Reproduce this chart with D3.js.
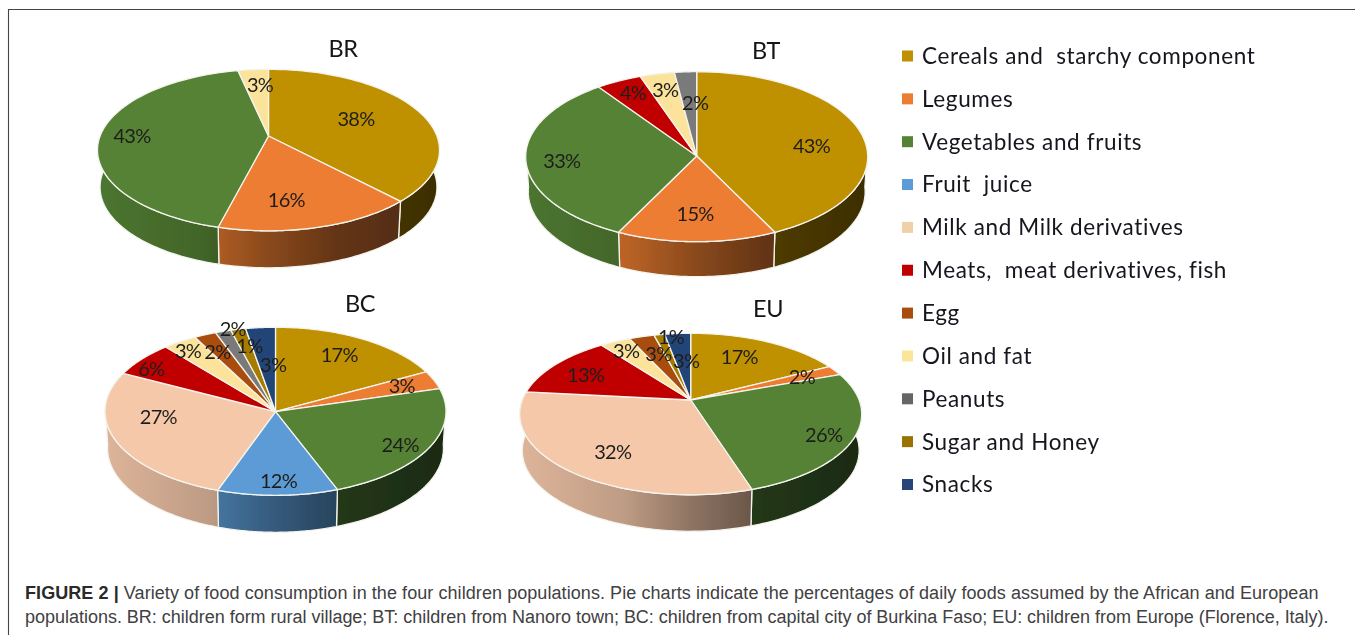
<!DOCTYPE html>
<html><head><meta charset="utf-8">
<script src="https://cdnjs.cloudflare.com/ajax/libs/d3/7.8.5/d3.min.js"></script>
<style>
html,body{margin:0;padding:0;background:#fff;overflow:hidden}
svg{display:block}
text{white-space:pre;font-variant-ligatures:none}
</style></head><body><svg id="c" width="1355" height="635"></svg>
<script>
// ---------- data ----------
const categories = ["Cereals and  starchy component","Legumes","Vegetables and fruits","Fruit  juice","Milk and Milk derivatives","Meats,  meat derivatives, fish","Egg","Oil and fat","Peanuts","Sugar and Honey","Snacks"];
// shares read from the slice boundaries; labels print them rounded
const seriesBR = [38,16,42.6,0,0,0,0,3.4,0,0,0];
const seriesBT = [42.5,15,32.7,0,0,4.4,0,3.3,2.1,0,0];
const seriesBC = [17.2,3.4,23.5,11.5,27,6.4,2.1,3.3,1.5,1.4,2.8];
const seriesEU = [17.4,2,25.7,0,31.6,13,2.8,3.4,0,1.2,2.9];
const sliceOrder = [0,1,2,3,4,5,7,6,8,9,10]; // oil precedes egg round the pie
const pieNames = ["BR","BT","BC","EU"];
const captionBold = "FIGURE 2 |";
const captionLine1 = " Variety of food consumption in the four children populations. Pie charts indicate the percentages of daily foods assumed by the African and European";
const captionLine2 = "populations. BR: children form rural village; BT: children from Nanoro town; BC: children from capital city of Burkina Faso; EU: children from Europe (Florence, Italy).";

// ---------- style / layout ----------
const colors = ["#BF9000","#ED7D31","#548235","#5B9BD5","#F5C8AA","#C00000","#A84E10","#FBE39B","#7A7A7A","#A67C00","#234478"];
const legendSwatch = ["#BF9000","#ED7D31","#548235","#5B9BD5","#F0D0A8","#C00000","#A84E10","#FBE599","#666666","#997300","#264478"];
const wallStops = [[0,.9],[.3,.78],[.5,.58],[.7,.42],[1,.32]];
const layouts = {
  BR:{values:seriesBR,hub:[268.5,136],R:168.4,b:78.3,k:.174,depth:37,title:[343,49],
      labelR:{0:.585,1:.72,2:.81,7:.736},turn:{0:-1,1:7,2:-1.3,7:1.7}},
  BT:{values:seriesBT,hub:[696.7,156],R:171,b:85,k:.008,depth:35,title:[766,51],
      labelR:{0:.684,1:.675,2:.79,5:.834,7:.81,8:.63},turn:{0:2.9,1:.8,2:.3,5:.7,7:.3,8:3}},
  BC:{values:seriesBC,hub:[275.5,411.7],R:170.5,b:84,k:-.005,depth:37,title:[360,304],
      labelR:{0:.77,1:.80,2:.83,3:.83,4:.69,5:.89,6:.786,7:.88,8:1.01,9:.80,10:.56},
      turn:{0:-2,1:-.4,2:1.7,3:-.5,4:16.4,5:-3.3,6:-1.3,7:-1.5,8:3.5,9:1.6,10:3.6}},
  EU:{values:seriesEU,hub:[690.7,400],R:168.4,b:78.3,k:.174,depth:36.5,title:[768,309],
      labelR:{0:.69,1:.763,2:.84,4:.723,5:.746,6:.698,7:.83,9:.95,10:.546},
      turn:{0:-3.7,1:-.4,2:3.1,4:-4.2,5:-2,6:2,7:-.3,9:4.4,10:2.1}}
};
const chartFont = "Lato, 'Open Sans', sans-serif";

const svg = d3.select("#c");
const defs = svg.append("defs");
defs.append("filter").attr("id","soft").append("feGaussianBlur").attr("stdDeviation",.45);

const framePath = d3.path();
framePath.moveTo(8.5,635); framePath.lineTo(8.5,9.5); framePath.lineTo(1355,9.5);
svg.append("path").attr("d",framePath.toString())
  .attr("fill","none").attr("stroke","#444").attr("stroke-width",1.1);

const root = svg.append("g").attr("filter","url(#soft)");
const line = d3.line();

pieNames.forEach((name,ci)=>{
  const L = layouts[name], [hx,hy] = L.hub;
  const pie = d3.pie().value(i=>L.values[i]).sort(null).startAngle(0).endAngle(2*Math.PI);
  // projective map from angle / radius on the disc onto the screen
  const proj = (a,r=1,drop=0,sx=1)=>{
    const x=r*Math.sin(a), y=-r*Math.cos(a), w=1-L.k*y;
    return [hx+sx*L.R*x/w, hy+L.b*y/w+drop];
  };
  const arcs = pie(sliceOrder);
  const g = root.append("g");
  const grad = colors.map((c,i)=>{
    const id=`w${ci}_${i}`;
    const lg=defs.append("linearGradient").attr("id",id).attr("gradientUnits","userSpaceOnUse")
      .attr("x1",hx-L.R).attr("x2",hx+L.R).attr("y1",0).attr("y2",0);
    wallStops.forEach(([o,m])=>{
      const q=d3.rgb(c); lg.append("stop").attr("offset",o).attr("stop-color",d3.rgb(q.r*m,q.g*m,q.b*m).formatHex());
    });
    return id;
  });
  const sample=(a0,a1)=>d3.range(0,61).map(t=>a0+(a1-a0)*t/60);
  // walls (only the part of each slice facing the viewer)
  const front0=Math.PI/2-.05, front1=3*Math.PI/2+.05;
  arcs.forEach(d=>{
    if(!d.value) return;
    const a0=Math.max(d.startAngle,front0), a1=Math.min(d.endAngle,front1);
    if(a1<=a0) return;
    const as=sample(a0,a1);
    const pts=as.map(a=>proj(a)).concat(as.slice().reverse().map(a=>proj(a,1,L.depth,.985)));
    g.append("path").attr("d",line(pts)+"Z").attr("fill",`url(#${grad[d.data]})`)
      .attr("stroke","#f4f4ee").attr("stroke-width",1.3).attr("stroke-linejoin","round");
  });
  // top surface
  arcs.forEach(d=>{
    if(!d.value) return;
    const pts=[proj(0,0)].concat(sample(d.startAngle,d.endAngle).map(a=>proj(a)));
    g.append("path").attr("d",line(pts)+"Z").attr("fill",colors[d.data])
      .attr("stroke","#f4f4ee").attr("stroke-width",1.3).attr("stroke-linejoin","round");
  });
  // percent labels
  arcs.forEach(d=>{
    if(!d.value) return;
    const i=d.data;
    const mid=(d.startAngle+d.endAngle)/2+(L.turn[i]||0)*Math.PI/180;
    const [x,y]=proj(mid,L.labelR[i]);
    g.append("text").attr("x",x).attr("y",y).attr("dy","0.36em").attr("text-anchor","middle")
      .attr("font-family",chartFont).attr("font-size",20).attr("letter-spacing",-.7).attr("fill","#1f1f1c").text(Math.round(d.value)+"%");
  });
  g.append("text").attr("x",L.title[0]).attr("y",L.title[1]).attr("dy","0.36em").attr("text-anchor","middle")
    .attr("font-family",chartFont).attr("font-size",23.5).attr("letter-spacing",-.4).attr("fill","#141414").text(name);
});

// legend
const legendY = d3.scalePoint().domain(categories).range([56,484.5]);
const lg = root.append("g");
categories.forEach((c,i)=>{
  const y=legendY(c);
  lg.append("rect").attr("x",902).attr("y",y-5.5).attr("width",11).attr("height",11).attr("fill",legendSwatch[i]);
  lg.append("text").attr("x",922).attr("y",y).attr("dy","0.35em").attr("font-family",chartFont)
    .attr("font-size",22.5).attr("letter-spacing",.62).attr("fill","#14141c").text(c);
});

// caption
const cap = svg.append("g").attr("font-family","'Liberation Sans',Arial,sans-serif").attr("font-size",18).attr("fill","#414042");
const t1=cap.append("text").attr("x",25).attr("y",599).attr("letter-spacing",.07);
t1.append("tspan").attr("font-weight","bold").attr("fill","#2a2a2a").text(captionBold);
t1.append("tspan").text(captionLine1);
cap.append("text").attr("x",25).attr("y",623).attr("letter-spacing",-.018).text(captionLine2);
</script></body></html>
